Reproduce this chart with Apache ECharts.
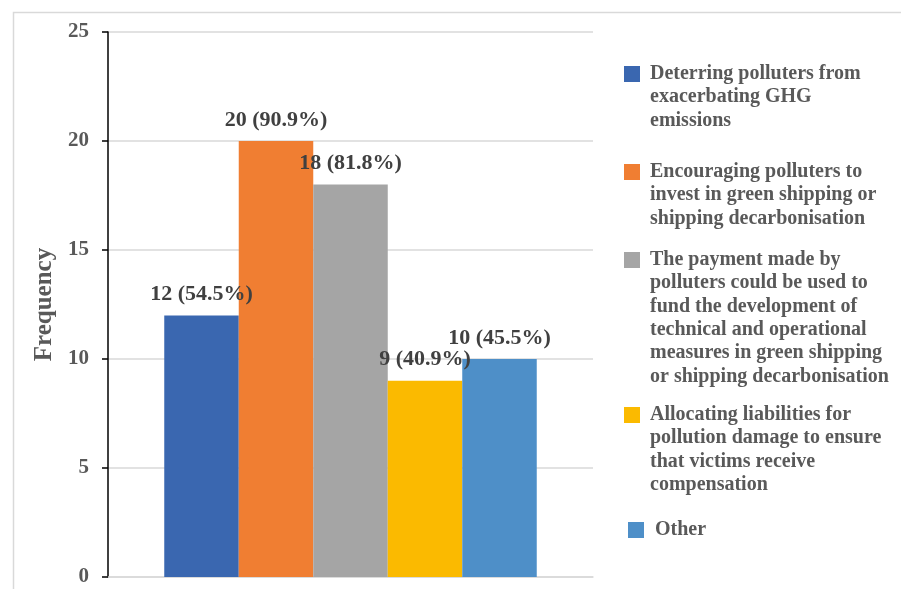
<!DOCTYPE html>
<html>
<head>
<meta charset="utf-8">
<script src="https://cdn.jsdelivr.net/npm/echarts@6/dist/echarts.min.js"></script>
<style>
  html, body { margin: 0; padding: 0; background: #fff; }
  #chart { width: 901px; height: 589px; }
</style>
</head>
<body>
<div id="chart"></div>
<script>
// Reasons given for the payment (legend text, wrapped as displayed)
const reasonLines = [
  ['Deterring polluters from', 'exacerbating GHG', 'emissions'],
  ['Encouraging polluters to', 'invest in green shipping or', 'shipping decarbonisation'],
  ['The payment made by', 'polluters could be used to', 'fund the development of',
   'technical and operational', 'measures in green shipping', 'or shipping decarbonisation'],
  ['Allocating liabilities for', 'pollution damage to ensure', 'that victims receive', 'compensation'],
  ['Other']
];
const reasonNames = reasonLines.map(l => l.join(' '));

// Number of respondents and share of respondents per reason
const frequency = [12, 20, 18, 9, 10];
const percent = [54.5, 90.9, 81.8, 40.9, 45.5];

// Value axis range
const yMin = 0;
const yMax = 25;
const yStep = 5;

const barColors = ['#3A67B0', '#F07E32', '#A5A5A5', '#FBBA00', '#4E8FC8'];

// Legend layout: vertical centre of each entry's first line
const legendFirstLine = [74, 172, 260, 415, 530];
const legendLineHeight = 23.3;
const serif = '"Liberation Serif", "Times New Roman", serif';

const chart = echarts.init(document.getElementById('chart'), null, { renderer: 'canvas' });

// Each entry is its own legend so the swatch sits beside the first text line:
// blank lines above the text make the first line the block's vertical middle.
const legends = reasonNames.map((name, i) => {
  const n = reasonLines[i].length;
  const isLast = i === reasonNames.length - 1;
  return {
    data: [name],
    orient: 'vertical',
    left: isLast ? 628 : 624,
    top: legendFirstLine[i] - (2 * n - 1) * legendLineHeight / 2,
    padding: 0,
    icon: 'rect',
    itemWidth: 16,
    itemHeight: 16,
    selectedMode: false,
    formatter: () => '\n'.repeat(n - 1) + reasonLines[i].join('\n'),
    textStyle: {
      fontFamily: serif,
      fontWeight: 'bold',
      fontSize: 20,
      lineHeight: legendLineHeight,
      color: '#595959',
      padding: [0, 0, 0, isLast ? 6 : 5]
    }
  };
});

const option = {
  backgroundColor: '#ffffff',
  animation: false,
  graphic: [{
    type: 'rect',
    left: 11,
    top: 10,
    silent: true,
    z: -10,
    shape: { width: 1000, height: 1000 },
    style: { fill: 'none', stroke: '#d9d9d9', lineWidth: 1.5 }
  }],
  legend: legends,
  grid: { left: 108, right: 308, top: 32, bottom: 12, containLabel: false },
  xAxis: {
    type: 'category',
    data: [''],
    axisLine: { show: true, lineStyle: { color: '#d9d9d9', width: 1.5 } },
    axisTick: { show: false },
    axisLabel: { show: false },
    splitLine: { show: false }
  },
  yAxis: {
    type: 'value',
    min: yMin,
    max: yMax,
    interval: yStep,
    name: 'Frequency',
    nameLocation: 'middle',
    nameGap: 50,
    nameTextStyle: { fontFamily: serif, fontWeight: 'bold', fontSize: 25, color: '#595959' },
    axisLine: { show: true, lineStyle: { color: '#000000', width: 1.5 } },
    axisTick: { show: true, inside: false, length: 6, lineStyle: { color: '#000000', width: 1.5 } },
    axisLabel: { margin: 19, fontFamily: serif, fontWeight: 'bold', fontSize: 21, color: '#595959' },
    splitLine: { show: true, lineStyle: { color: '#d9d9d9', width: 1.5 } }
  },
  series: reasonNames.map((name, i) => ({
    type: 'bar',
    name: name,
    data: [frequency[i]],
    barWidth: 74.5,
    barGap: '0%',
    itemStyle: { color: barColors[i] },
    label: {
      show: true,
      position: 'top',
      distance: 10,
      fontFamily: serif,
      fontWeight: 'bold',
      fontSize: 22,
      color: '#404040',
      formatter: p => p.value + ' (' + percent[i].toFixed(1) + '%)'
    },
    z: 2
  }))
};

chart.setOption(option);
</script>
</body>
</html>
